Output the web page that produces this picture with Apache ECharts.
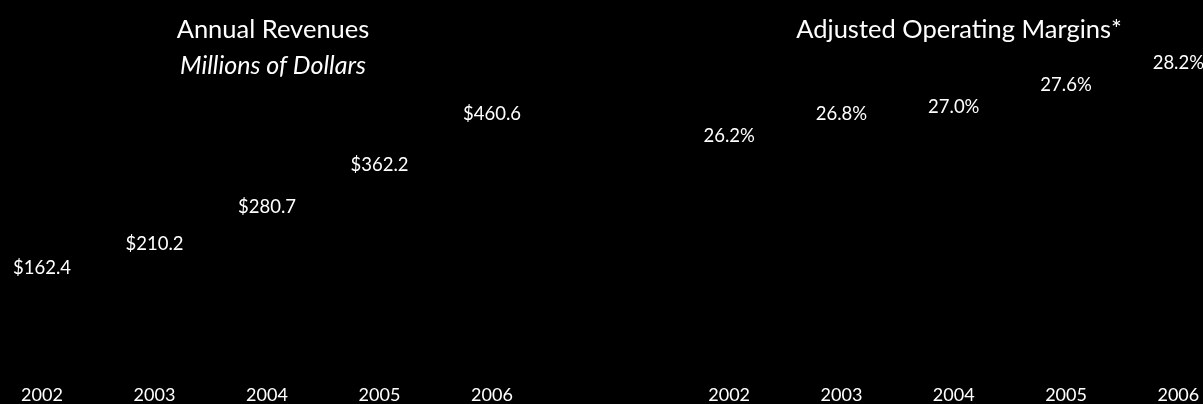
<!DOCTYPE html>
<html>
<head>
<meta charset="utf-8">
<script src="https://cdn.jsdelivr.net/npm/echarts@6/dist/echarts.min.js"></script>
<style>
html,body{margin:0;padding:0;background:#000;overflow:hidden;width:1203px;height:404px;position:relative;}
#chart{position:absolute;left:-100px;top:0;width:1403px;height:404px;}
</style>
</head>
<body>
<div id="chart"></div>
<script>
const years = ['2002', '2003', '2004', '2005', '2006'];
const revenues = [162.4, 210.2, 280.7, 362.2, 460.6];
const margins = [26.2, 26.8, 27.0, 27.6, 28.2];
const revenueTitle = 'Annual Revenues';
const revenueSubtitle = 'Millions of Dollars';
const marginTitle = 'Adjusted Operating Margins*';

const FONT = 'Lato, "Open Sans", sans-serif';
const OFF = 100; // chart canvas extends 100px beyond each side of the page
const chart = echarts.init(document.getElementById('chart'), null, {renderer: 'canvas'});

const catAxis = (gridIndex, margin) => ({
  type: 'category', gridIndex, data: years,
  axisLine: {show: false}, axisTick: {show: false}, splitLine: {show: false},
  axisLabel: {color: '#fff', fontFamily: FONT, fontSize: 18, margin: margin}
});

chart.setOption({
  backgroundColor: '#000',
  animation: false,
  title: [
    {
      text: revenueTitle, subtext: revenueSubtitle,
      left: 268 + OFF, top: 12, textAlign: 'center', itemGap: 10,
      textStyle: {color: '#fff', fontFamily: FONT, fontSize: 25.5, fontWeight: 'normal'},
      subtextStyle: {color: '#fff', fontFamily: FONT, fontSize: 25, fontStyle: 'italic'}
    },
    {
      text: marginTitle,
      left: 954 + OFF, top: 12, textAlign: 'center',
      textStyle: {color: '#fff', fontFamily: FONT, fontSize: 25.5, fontWeight: 'normal'}
    }
  ],
  grid: [
    {left: -14.25 + OFF, width: 562.5, top: 106.25, height: 263.25},
    {left: 673 + OFF, width: 561.5, top: 9.4, height: 370}
  ],
  xAxis: [catAxis(0, 21), catAxis(1, 11)],
  yAxis: [
    {type: 'value', gridIndex: 0, min: 0, max: 500, show: false, splitLine: {show: false}},
    {type: 'value', gridIndex: 1, min: 20, max: 30, show: false, splitLine: {show: false}}
  ],
  series: [
    {
      type: 'bar', xAxisIndex: 0, yAxisIndex: 0, data: revenues,
      itemStyle: {color: '#000'}, barWidth: '50%',
      label: {show: true, position: 'top', distance: 3, color: '#fff', fontFamily: FONT, fontSize: 18.5,
        formatter: p => '$' + p.value.toFixed(1)}
    },
    {
      type: 'bar', xAxisIndex: 1, yAxisIndex: 1, data: margins,
      itemStyle: {color: '#000'}, barWidth: '50%',
      label: {show: true, position: 'top', distance: 3, color: '#fff', fontFamily: FONT, fontSize: 18.5,
        formatter: p => p.value.toFixed(1) + '%'}
    }
  ]
});
</script>
</body>
</html>
